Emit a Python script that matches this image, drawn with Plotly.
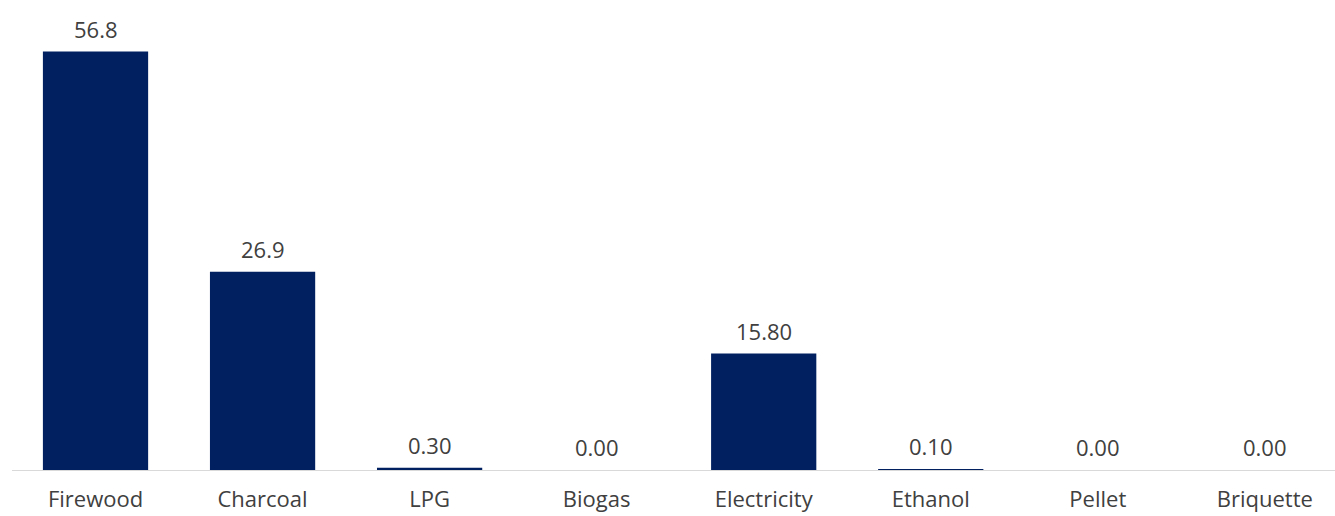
import plotly.graph_objects as go

fuels = ['Firewood', 'Charcoal', 'LPG', 'Biogas', 'Electricity', 'Ethanol', 'Pellet', 'Briquette']
shares = [56.8, 26.9, 0.30, 0.00, 15.80, 0.10, 0.00, 0.00]
share_labels = ['56.8', '26.9', '0.30', '0.00', '15.80', '0.10', '0.00', '0.00']

BAR_COLOR = '#002060'
TEXT_COLOR = '#404040'
FONT = 'Open Sans, Noto Sans, sans-serif'

fig = go.Figure()
fig.add_trace(go.Bar(
    x=fuels,
    y=shares,
    marker=dict(color=BAR_COLOR, line=dict(width=0)),
    hoverinfo='x+y',
))

# value labels sit a bit higher above the bars than plotly's own outside text
for fuel, val, lbl in zip(fuels, shares, share_labels):
    fig.add_annotation(
        x=fuel, y=val, text=lbl,
        showarrow=False, yanchor='bottom', yshift=6,
        font=dict(size=22, color=TEXT_COLOR, family=FONT),
    )

fig.update_layout(
    width=1335,
    height=516,
    margin=dict(l=12, r=0, t=28, b=46),
    paper_bgcolor='white',
    plot_bgcolor='white',
    showlegend=False,
    bargap=0.37,
    font=dict(family=FONT, color=TEXT_COLOR, size=22),
)

fig.update_xaxes(
    range=[-0.5, 7.42],
    automargin=False,
    showline=True,
    linecolor='#d9d9d9',
    linewidth=1,
    showgrid=False,
    ticks='outside',
    ticklen=10,
    tickcolor='rgba(0,0,0,0)',
    tickfont=dict(size=22, color=TEXT_COLOR, family=FONT),
)
fig.update_yaxes(
    range=[0, 60],
    visible=False,
    showgrid=False,
    zeroline=False,
)

fig.write_html('out.html', config={'displayModeBar': False},
               post_script="document.body.style.margin='0';")
